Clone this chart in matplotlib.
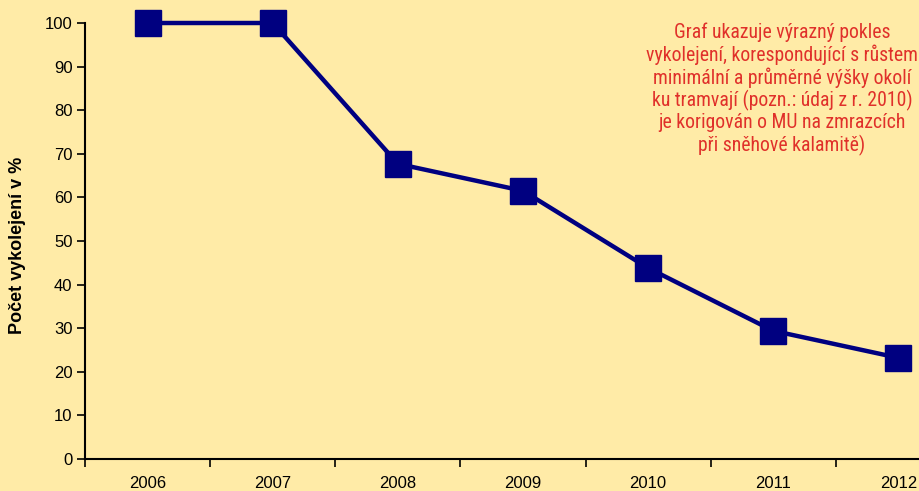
import matplotlib.pyplot as plt
import matplotlib.font_manager as fm

years = ['2006', '2007', '2008', '2009', '2010', '2011', '2012']
derail_pct = [100, 100, 67.7, 61.5, 43.8, 29.4, 23.2]
yticks = list(range(0, 101, 10))

note = ("Graf ukazuje výrazný pokles\n"
        "vykolejení, korespondující s růstem\n"
        "minimální a průměrné výšky okolí\n"
        "ku tramvají (pozn.: údaj z r. 2010)\n"
        "je korigován o MU na zmrazcích\n"
        "při sněhové kalamitě)")

bg = '#FFEBA7'
names = {f.name for f in fm.fontManager.ttflist}
wanted = ['Liberation Sans Narrow', 'Roboto Condensed', 'Archivo Narrow',
          'PT Sans Narrow', 'Fira Sans Condensed', 'Barlow Condensed',
          'Encode Sans Condensed', 'Asap Condensed', 'Sofia Sans Condensed',
          'Saira Condensed', 'Open Sans Condensed', 'Oswald']
narrow = next((n for n in wanted if n in names), 'Liberation Sans')

fig = plt.figure(figsize=(9.2, 4.91), dpi=100, facecolor=bg)
ax = fig.add_axes([85 / 920, 32 / 491, 876 / 920, 436 / 491])
ax.set_facecolor(bg)

x = range(len(years))
ax.plot(x, derail_pct, color='#000080', lw=3.2, marker='s', ms=18.5,
        mfc='#000080', mec='#000080', clip_on=False, zorder=3)

ax.set_xlim(-0.5, len(years) - 0.5)
ax.set_ylim(0, 100)
ax.set_yticks(yticks)
ax.set_xticks(x)
ax.set_xticklabels(years, fontsize=12, family='Liberation Sans')
ax.set_xticks([i - 0.5 for i in range(len(years) + 1)], minor=True)
ax.tick_params(axis='x', which='major', length=0, pad=12)
ax.tick_params(axis='x', which='minor', length=6, width=1.2, direction='out')
ax.tick_params(axis='y', length=6, width=1.2, labelsize=12, pad=3)
for lab in ax.get_yticklabels():
    lab.set_family('Liberation Sans')

for s in ['top', 'right']:
    ax.spines[s].set_visible(False)
for s in ['left', 'bottom']:
    ax.spines[s].set_linewidth(1.5)

fig.text(18 / 920, 1 - 245 / 491, 'Počet vykolejení v %', rotation=90,
         ha='center', va='center', fontsize=13, fontweight='bold',
         family='Liberation Sans')

fig.text(918 / 920, 1 - 89 / 491, note, ha='right', va='center',
         multialignment='center', fontsize=14.2, color='#E0302A',
         family=[narrow, 'DejaVu Sans'], linespacing=1.15)

fig.savefig('out.png', dpi=100, facecolor=bg)
